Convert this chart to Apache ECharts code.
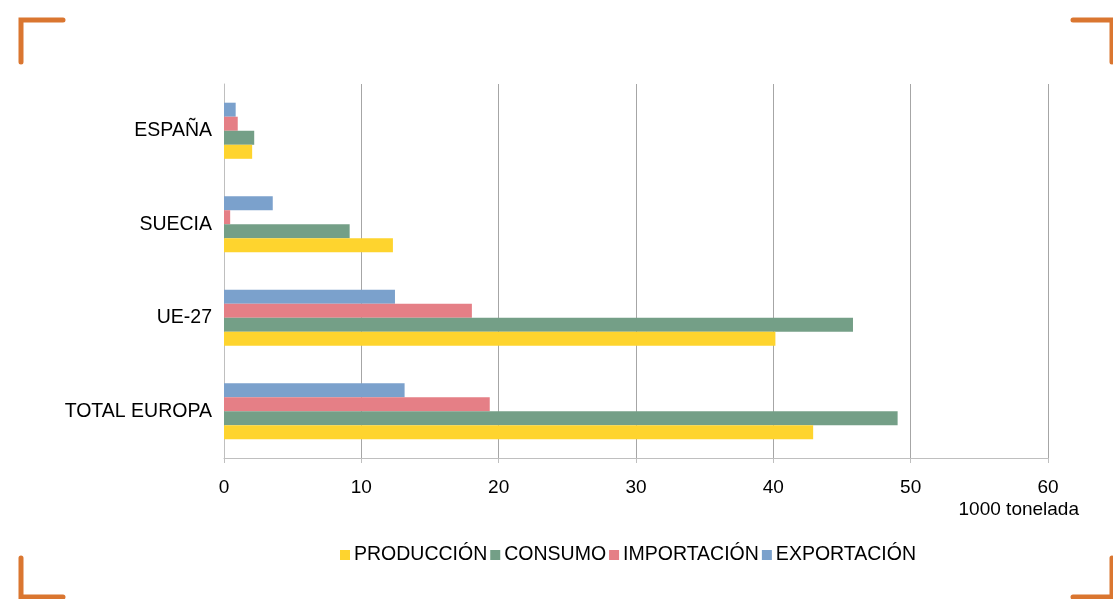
<!DOCTYPE html>
<html>
<head>
<meta charset="utf-8">
<script src="https://cdn.jsdelivr.net/npm/echarts@6/dist/echarts.min.js"></script>
<style>
html,body{margin:0;padding:0;background:#fff;}
#chart{width:1113px;height:599px;}
</style>
</head>
<body>
<div id="chart"></div>
<script>
// Categories listed bottom to top
const categories = ['TOTAL EUROPA', 'UE-27', 'SUECIA', 'ESPAÑA'];
const seriesNames = ['PRODUCCIÓN', 'CONSUMO', 'IMPORTACIÓN', 'EXPORTACIÓN'];
const produccion = [42.9, 40.15, 12.3, 2.05];
const consumo = [49.05, 45.8, 9.15, 2.2];
const importacion = [19.35, 18.05, 0.45, 1.0];
const exportacion = [13.15, 12.45, 3.55, 0.85];
const xTicks = [0, 10, 20, 30, 40, 50, 60];
const unitLabel = '1000 tonelada';

const colors = ['#FED42E', '#749F87', '#E57F86', '#7BA1CC'];
const values = [produccion, consumo, importacion, exportacion];
const FONT = 'Liberation Sans, Arial, sans-serif';

const chart = echarts.init(document.getElementById('chart'));
const orange = '#DA7630';
function bracket(points) {
  return {
    type: 'polyline',
    shape: { points: points },
    style: { stroke: orange, lineWidth: 5, fill: null, lineCap: 'round', lineJoin: 'miter' },
    silent: true
  };
}
// series drawn in reverse so that PRODUCCIÓN sits at the bottom of each group
const order = [3, 2, 1, 0];
chart.setOption({
  backgroundColor: '#ffffff',
  animation: false,
  grid: { left: 224, right: 65, top: 84, bottom: 141, containLabel: false },
  xAxis: {
    type: 'value',
    min: xTicks[0],
    max: xTicks[xTicks.length - 1],
    interval: 10,
    axisLine: { show: true, lineStyle: { color: '#BFBFBF', width: 1 } },
    axisTick: { show: true, length: 5, lineStyle: { color: '#BFBFBF' } },
    axisLabel: { color: '#000', fontSize: 19, fontFamily: FONT, margin: 20 },
    splitLine: { show: true, lineStyle: { color: '#A6A6A6', width: 1 } }
  },
  yAxis: {
    type: 'category',
    data: categories,
    axisLine: { show: true, lineStyle: { color: '#BFBFBF', width: 1 } },
    axisTick: { show: false },
    axisLabel: { color: '#000', fontSize: 19.5, fontFamily: FONT, margin: 12 }
  },
  legend: {
    data: seriesNames,
    left: 340,
    top: 545,
    padding: 0,
    itemWidth: 10,
    itemHeight: 10,
    itemGap: 3,
    icon: 'rect',
    textStyle: { color: '#000', fontSize: 19.5, fontFamily: FONT, padding: [0, 0, 0, -1] }
  },
  series: order.map(i => ({
    name: seriesNames[i],
    type: 'bar',
    data: values[i],
    barGap: '0%',
    barCategoryGap: '40%',
    itemStyle: { color: colors[i] }
  })),
  graphic: [
    {
      type: 'text',
      right: 34,
      top: 500,
      style: { text: unitLabel, fill: '#000', font: '19px Liberation Sans, Arial, sans-serif' }
    },
    bracket([[63, 20], [21, 20], [21, 62]]),
    bracket([[1073, 20], [1112, 20], [1112, 62]]),
    bracket([[21, 558], [21, 597], [63, 597]]),
    bracket([[1112, 558], [1112, 597], [1073, 597]])
  ]
});
</script>
</body>
</html>
